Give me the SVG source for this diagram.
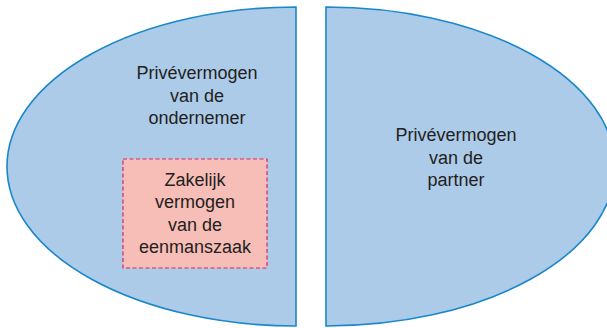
<svg xmlns="http://www.w3.org/2000/svg" width="607" height="328" viewBox="0 0 607 328">
<style>
.half{fill:#abcbe9;stroke:#1b87c9;stroke-width:1.6}
.box{fill:#f7bdb7;stroke:#e0245e;stroke-width:1.2;stroke-dasharray:4 2.5}
text{font-family:"Liberation Sans",Arial,sans-serif;font-size:18px;fill:#231f20;text-anchor:middle}
</style>
<rect width="607" height="328" fill="#ffffff"/>
<g id="prive-ondernemer">
<path class="half" d="M296,7 A289,159.5 0 0 0 296,326 Z"/>
<text x="197" y="79">Privévermogen</text>
<text x="197" y="101.5">van de</text>
<text x="197" y="124">ondernemer</text>
</g>
<g id="zakelijk">
<rect class="box" x="123" y="159" width="144" height="109"/>
<text x="195" y="185.5">Zakelijk</text>
<text x="195" y="208">vermogen</text>
<text x="195" y="230.5">van de</text>
<text x="195" y="253">eenmanszaak</text>
</g>
<g id="prive-partner">
<path class="half" d="M326,7 A289,159.5 0 0 1 326,326 Z"/>
<text x="456" y="141">Privévermogen</text>
<text x="456" y="163.5">van de</text>
<text x="456" y="186">partner</text>
</g>
<g id="connectors"/>
</svg>
